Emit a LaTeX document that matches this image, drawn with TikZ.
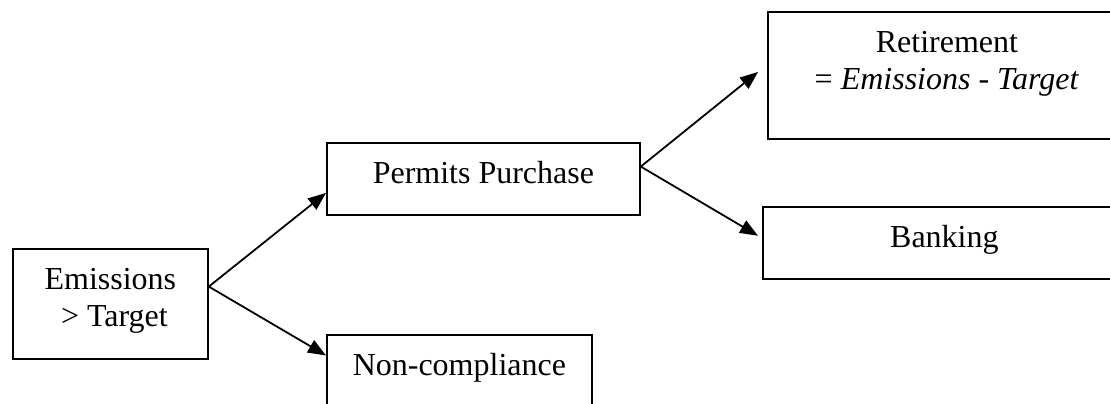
\documentclass[tikz,border=0pt]{standalone}
\usepackage{fontspec}
\setmainfont{Liberation Serif}
\usetikzlibrary{arrows.meta,calc}

\begin{document}
\begin{tikzpicture}
[x=0.5pt,y=-0.5pt,
box/.style={rectangle,draw=black,line width=0.9pt,inner sep=0pt,anchor=north west,text height=20.5pt,font=\fontsize{16}{18.5}\selectfont},
edge/.style={-{Triangle[length=9pt,width=7pt]},line width=0.9pt}]
\useasboundingbox (0,0) rectangle (1110,403);
\node[box,minimum width=97.5pt,text depth=34.5pt] (emissions) at (12,248) {\begin{tabular}[t]{@{}c@{}}Emissions\\ \ > Target\end{tabular}};
\node[box,minimum width=156.5pt,text depth=15.5pt] (permits) at (326,142) {Permits Purchase};
\node[box,minimum width=132.5pt,text depth=15.5pt] (noncompliance) at (326,334) {Non-compliance};
\node[box,minimum width=179pt,text depth=43pt] (retirement) at (767,11) {\begin{tabular}[t]{@{}c@{}}Retirement\\ = \textit{Emissions - Target}\end{tabular}};
\node[box,minimum width=181.5pt,text depth=15.5pt] (banking) at (762,206) {Banking};
\draw[edge] ($(emissions.north east)!0.345!(emissions.south east)$) -- ($(permits.north west)!0.69!(permits.south west)$);
\draw[edge] ($(emissions.north east)!0.345!(emissions.south east)$) -- ($(noncompliance.north west)!0.29!(noncompliance.south west)$);
\draw[edge,shorten >=5.75pt] ($(permits.north east)!0.333!(permits.south east)$) -- ($(retirement.north west)!0.417!(retirement.south west)$);
\draw[edge,shorten >=2.3pt] ($(permits.north east)!0.333!(permits.south east)$) -- ($(banking.north west)!0.435!(banking.south west)$);
\end{tikzpicture}
\end{document}
